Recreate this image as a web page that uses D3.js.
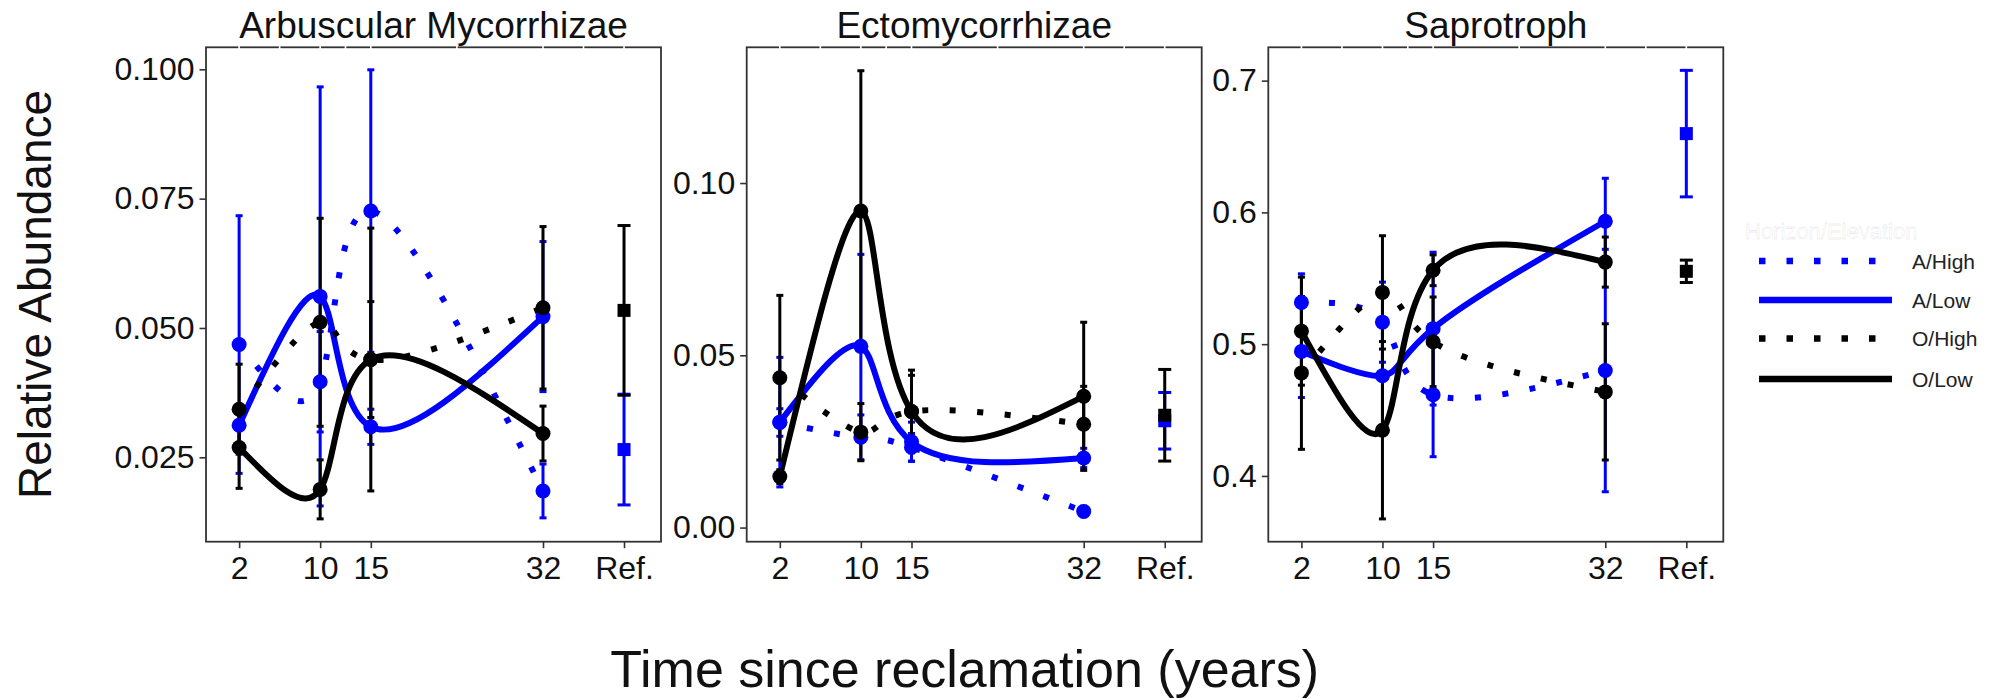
<!DOCTYPE html>
<html>
<head>
<meta charset="utf-8">
<script src="https://cdn.jsdelivr.net/npm/d3@7"></script>
<style>
body { margin: 0; background: #fff; }
text { font-family: "Liberation Sans", Arial, sans-serif; }
</style>
</head>
<body>
<div id="chart"></div>
<script>
// Time points (years since reclamation); reference sites sit at x = 40
var years = [2, 10, 15, 32];
var refX = 40;
var xTicks = [2, 10, 15, 32, 40];
var xTickLabels = ["2", "10", "15", "32", "Ref."];
var xMinor = [6, 12.5, 23.5, 36];

var groups = ["A/High", "A/Low", "O/High", "O/Low"];
var groupColors = ["#0000ff", "#0000ff", "#000000", "#000000"];
var groupDotted = [true, false, true, false];

// Arbuscular Mycorrhizae (mean, se)
var amAHigh = [0.0468, 0.0396, 0.0726, 0.0185];
var amAHighSe = [0.0249, 0.0097, 0.0273, 0.0052];
var amALow = [0.0312, 0.0561, 0.0309, 0.0522];
var amALowSe = [0.0040, 0.0405, 0.0034, 0.0145];
var amOHigh = [0.0343, 0.0511, 0.0439, 0.0539];
var amOHighSe = [0.0087, 0.0201, 0.0254, 0.0157];
var amOLow = [0.0269, 0.0188, 0.0439, 0.0296];
var amOLowSe = [0.0079, 0.0057, 0.0112, 0.0053];
var amRef = [0.0265, 0.0534];      // A, O
var amRefSe = [0.0107, 0.0164];

// Ectomycorrhizae
var ecAHigh = [0.0305, 0.0262, 0.0233, 0.0047];
var ecAHighSe = [0.0040, 0.0065, 0.0040, 0.0015];
var ecALow = [0.0306, 0.0526, 0.0249, 0.0202];
var ecALowSe = [0.0188, 0.0267, 0.0057, 0.0028];
var ecOHigh = [0.0435, 0.0277, 0.0337, 0.0300];
var ecOHighSe = [0.0239, 0.0083, 0.0120, 0.0110];
var ecOLow = [0.0148, 0.0919, 0.0337, 0.0381];
var ecOLowSe = [0.0020, 0.0407, 0.0105, 0.0215];
var ecRef = [0.0310, 0.0326];
var ecRefSe = [0.0082, 0.0133];

// Saprotroph
var saAHigh = [0.5317, 0.5167, 0.4616, 0.4800];
var saAHighSe = [0.0217, 0.0304, 0.0470, 0.0920];
var saALow = [0.4945, 0.4760, 0.5118, 0.5933];
var saALowSe = [0.0350, 0.0434, 0.0580, 0.0326];
var saOHigh = [0.4782, 0.5393, 0.5018, 0.4638];
var saOHighSe = [0.0580, 0.0430, 0.0340, 0.0517];
var saOLow = [0.5099, 0.4347, 0.5561, 0.5623];
var saOLowSe = [0.0410, 0.0673, 0.0117, 0.0190];
var saRef = [0.6598, 0.5553];
var saRefSe = [0.0480, 0.0085];

var panelTitles = ["Arbuscular Mycorrhizae", "Ectomycorrhizae", "Saprotroph"];
var yDomains = [[0.00869, 0.10425], [-0.0041, 0.1394], [0.3501, 0.7253]];
var yTicks = [[0.025, 0.05, 0.075, 0.1], [0, 0.05, 0.1], [0.4, 0.5, 0.6, 0.7]];
var yFormats = [".3f", ".2f", ".1f"];

var panelMeans = [
    [amAHigh, amALow, amOHigh, amOLow],
    [ecAHigh, ecALow, ecOHigh, ecOLow],
    [saAHigh, saALow, saOHigh, saOLow]
];
var panelSe = [
    [amAHighSe, amALowSe, amOHighSe, amOLowSe],
    [ecAHighSe, ecALowSe, ecOHighSe, ecOLowSe],
    [saAHighSe, saALowSe, saOHighSe, saOLowSe]
];
var panelRef = [amRef, ecRef, saRef];
var panelRefSe = [amRefSe, ecRefSe, saRefSe];

// Layout
var svgWidth = 1996;
var svgHeight = 699;
var panelLeft = [206, 746.7, 1268.3];
var panelWidth = 455;
var panelTop = 47.3;
var panelHeight = 494.4;
var xDomain = [-1.27, 43.65];
var lineWidth = 6;
var dotPattern = "6 21.5";

var svg = d3.select("#chart")
    .append("svg")
    .attr("width", svgWidth)
    .attr("height", svgHeight);

svg.append("defs")
    .append("clipPath")
    .attr("id", "panelClip")
    .append("rect")
    .attr("width", panelWidth)
    .attr("height", panelHeight);

panelTitles.forEach(function(title, p) {
    var g = svg.append("g")
        .attr("transform", `translate(${panelLeft[p]}, ${panelTop})`);

    var xScale = d3.scaleLinear().domain(xDomain).range([0, panelWidth]);
    var yScale = d3.scaleLinear().domain(yDomains[p]).range([panelHeight, 0]);

    // panel border
    g.append("rect")
        .attr("width", panelWidth)
        .attr("height", panelHeight)
        .attr("fill", "none")
        .attr("stroke", "#333")
        .attr("stroke-width", 1.8);

    // white grid lines only show where they cross the top border
    g.selectAll(".gap")
        .data(xTicks.concat(xMinor))
        .enter()
        .append("line")
        .attr("x1", d => xScale(d))
        .attr("x2", d => xScale(d))
        .attr("y1", -2)
        .attr("y2", 2)
        .attr("stroke", "#fff")
        .attr("stroke-width", 1.6);

    // axes
    var bottomAxis = d3.axisBottom(xScale)
        .tickValues(xTicks)
        .tickFormat((d, j) => xTickLabels[j])
        .tickSize(6.5)
        .tickPadding(8);
    var xAxis = g.append("g")
        .attr("transform", `translate(0, ${panelHeight})`)
        .call(bottomAxis);

    var leftAxis = d3.axisLeft(yScale)
        .tickValues(yTicks[p])
        .tickFormat(d3.format(yFormats[p]))
        .tickSize(6.5)
        .tickPadding(5);
    var yAxis = g.append("g").call(leftAxis);

    [xAxis, yAxis].forEach(function(ax) {
        ax.select(".domain").remove();
        ax.selectAll("line").attr("stroke", "#333").attr("stroke-width", 1.6);
        ax.selectAll("text")
            .attr("font-size", 32)
            .attr("font-family", "Liberation Sans, Arial, sans-serif")
            .attr("fill", "#111");
    });

    // panel title
    svg.append("text")
        .attr("x", panelLeft[p] + panelWidth / 2)
        .attr("y", 37.5)
        .attr("text-anchor", "middle")
        .attr("font-size", 37)
        .attr("fill", "#111")
        .text(title);

    // smoothed curves through the group means
    var line = d3.line()
        .x(d => xScale(d[0]))
        .y(d => yScale(d[1]))
        .curve(d3.curveNatural);

    var curves = g.append("g").attr("clip-path", "url(#panelClip)");
    groups.forEach(function(name, k) {
        curves.append("path")
            .datum(years.map((yr, j) => [yr, panelMeans[p][k][j]]))
            .attr("d", line)
            .attr("fill", "none")
            .attr("stroke", groupColors[k])
            .attr("stroke-width", lineWidth)
            .attr("stroke-dasharray", groupDotted[k] ? dotPattern : null)
            .attr("stroke-linejoin", "round");
    });

    // error bars for time points
    groups.forEach(function(name, k) {
        var rows = years.map((yr, j) => ({
            x: yr, m: panelMeans[p][k][j], se: panelSe[p][k][j]
        }));
        var bars = g.append("g")
            .attr("stroke", groupColors[k])
            .attr("stroke-width", 3);
        bars.selectAll(".v").data(rows).enter().append("line")
            .attr("x1", d => xScale(d.x)).attr("x2", d => xScale(d.x))
            .attr("y1", d => yScale(d.m - d.se)).attr("y2", d => yScale(d.m + d.se));
        bars.selectAll(".t").data(rows).enter().append("line")
            .attr("x1", d => xScale(d.x) - 3.5).attr("x2", d => xScale(d.x) + 3.5)
            .attr("y1", d => yScale(d.m + d.se)).attr("y2", d => yScale(d.m + d.se));
        bars.selectAll(".b").data(rows).enter().append("line")
            .attr("x1", d => xScale(d.x) - 3.5).attr("x2", d => xScale(d.x) + 3.5)
            .attr("y1", d => yScale(d.m - d.se)).attr("y2", d => yScale(d.m - d.se));
    });

    groups.forEach(function(name, k) {
        g.append("g").selectAll("circle")
            .data(years.map((yr, j) => [yr, panelMeans[p][k][j]]))
            .enter()
            .append("circle")
            .attr("cx", d => xScale(d[0]))
            .attr("cy", d => yScale(d[1]))
            .attr("r", 7.5)
            .attr("fill", groupColors[k]);
    });

    // reference sites: A horizon (blue), O horizon (black)
    var refRows = [
        { m: panelRef[p][0], se: panelRefSe[p][0], c: "#0000ff" },
        { m: panelRef[p][1], se: panelRefSe[p][1], c: "#000000" }
    ];
    refRows.forEach(function(d) {
        var cx = xScale(refX);
        var rg = g.append("g").attr("stroke", d.c).attr("stroke-width", 3);
        rg.append("line").attr("x1", cx).attr("x2", cx)
            .attr("y1", yScale(d.m - d.se)).attr("y2", yScale(d.m + d.se));
        rg.append("line").attr("x1", cx - 6.5).attr("x2", cx + 6.5)
            .attr("y1", yScale(d.m + d.se)).attr("y2", yScale(d.m + d.se));
        rg.append("line").attr("x1", cx - 6.5).attr("x2", cx + 6.5)
            .attr("y1", yScale(d.m - d.se)).attr("y2", yScale(d.m - d.se));
    });
    refRows.forEach(function(d) {
        g.append("rect")
            .attr("x", xScale(refX) - 6.5)
            .attr("y", yScale(d.m) - 6.5)
            .attr("width", 13)
            .attr("height", 13)
            .attr("fill", d.c);
    });
});

// axis titles
svg.append("text")
    .attr("x", panelLeft[0] + (panelLeft[2] + panelWidth - panelLeft[0]) / 2)
    .attr("y", 687)
    .attr("text-anchor", "middle")
    .attr("font-size", 52)
    .attr("fill", "#111")
    .text("Time since reclamation (years)");

svg.append("text")
    .attr("transform", `translate(51, ${panelTop + panelHeight / 2}) rotate(-90)`)
    .attr("text-anchor", "middle")
    .attr("font-size", 46)
    .attr("fill", "#111")
    .text("Relative Abundance");

// legend
var legend = svg.append("g").attr("transform", "translate(1759, 0)");
var legendY = [261, 300, 338.5, 379];

legend.append("text")
    .attr("x", -14)
    .attr("y", 239)
    .attr("font-size", 22)
    .attr("fill", "#fff")
    .attr("stroke", "#ddd")
    .attr("stroke-width", 0.3)
    .text("Horizon/Elevation");

groups.forEach(function(name, k) {
    legend.append("line")
        .attr("x1", 0)
        .attr("x2", 133)
        .attr("y1", legendY[k])
        .attr("y2", legendY[k])
        .attr("stroke", groupColors[k])
        .attr("stroke-width", 6.5)
        .attr("stroke-dasharray", groupDotted[k] ? "6.5 21" : null);
    legend.append("text")
        .attr("x", 153)
        .attr("y", legendY[k] + 7.5)
        .attr("font-size", 21)
        .attr("fill", "#222")
        .text(name);
});
</script>
</body>
</html>
